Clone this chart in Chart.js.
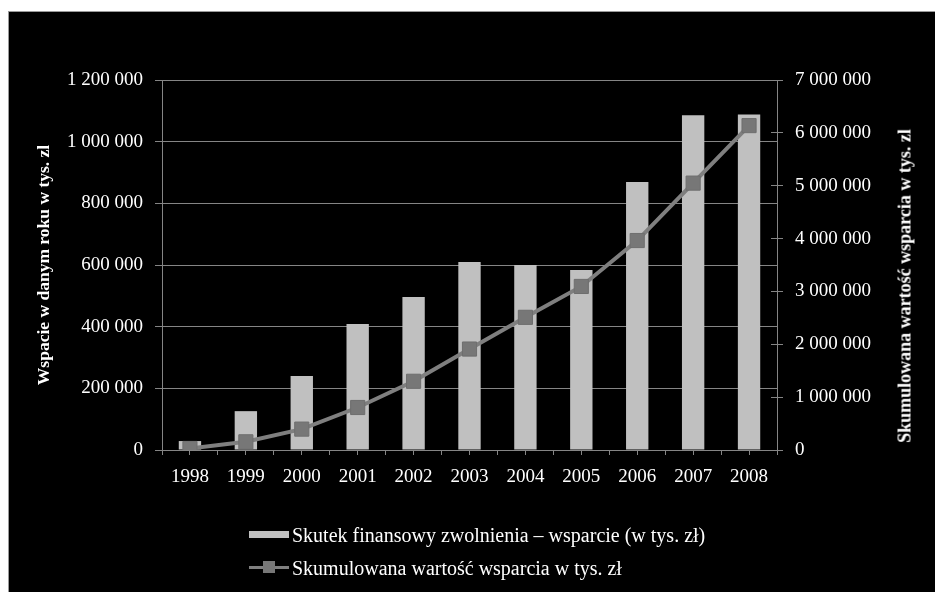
<!DOCTYPE html>
<html>
<head>
<meta charset="utf-8">
<script src="https://cdn.jsdelivr.net/npm/chart.js@4/dist/chart.umd.min.js"></script>
<style>
  html, body { margin: 0; padding: 0; background: #fff; overflow: hidden; }
  #frame { position: absolute; left: 8px; top: 11px; width: 940px; height: 600px; border: 1px solid #9a9a9a; background: #000; }
  #wrap { position: absolute; left: 0; top: 0; width: 935px; height: 592px; }
  .legend-row { position: absolute; left: 249px; height: 22px; font-family: "Liberation Serif", serif; font-size: 20px; color: #fff; white-space: nowrap; }
  .legend-row span { position: absolute; left: 43px; top: 0; line-height: 22px; }
  .sw-bar { position: absolute; left: 0; top: 7px; width: 40px; height: 7px; background: #c0c0c0; }
  .sw-line { position: absolute; left: 0; top: 9px; width: 40px; height: 3px; background: #7f7f7f; }
  .sw-mark { position: absolute; left: 14px; top: 4px; width: 12px; height: 12px; background: #777; }
  #rtitle { position: absolute; left: 905px; top: 286px; transform: translate(-50%, -50%) rotate(-90deg); font-family: "Liberation Serif", serif; font-weight: bold; font-size: 18px; color: #fff; white-space: nowrap; }
</style>
</head>
<body>
<div id="frame"></div>
<div id="wrap"><canvas id="chart"></canvas></div>
<div id="rtitle"></div>
<div class="legend-row" style="top:524px"><div class="sw-bar"></div><span id="lg1"></span></div>
<div class="legend-row" style="top:557px"><div class="sw-line"></div><div class="sw-mark"></div><span id="lg2"></span></div>
<script>
const years = ['1998', '1999', '2000', '2001', '2002', '2003', '2004', '2005', '2006', '2007', '2008'];
const yearlySupport = [29000, 126000, 240000, 409000, 496000, 610000, 600000, 584000, 869000, 1086000, 1088000];
const cumulativeSupport = [29000, 155000, 395000, 804000, 1300000, 1910000, 2510000, 3094000, 3963000, 5049000, 6137000];
const barLabel = 'Skutek finansowy zwolnienia – wsparcie (w tys. zł)';
const lineLabel = 'Skumulowana wartość wsparcia w tys. zł';
const leftTitle = 'Wspacie w danym roku w tys. zl';
const rightTitle = 'Skumulowana wartość wsparcia w tys. zl';

document.getElementById('lg1').textContent = barLabel;
document.getElementById('lg2').textContent = lineLabel;
// right axis title reads bottom-to-top like the left one, so it sits in the page instead of chart.js
document.getElementById('rtitle').textContent = rightTitle;

const fmt = v => String(v).replace(/\B(?=(\d{3})+(?!\d))/g, ' ');
const gridGray = '#858585';
const tickFont = { family: '"Liberation Serif", serif', size: 19 };

new Chart(document.getElementById('chart'), {
    type: 'bar',
    data: {
        labels: years,
        datasets: [
            {
                type: 'line',
                label: lineLabel,
                data: cumulativeSupport,
                yAxisID: 'y2',
                borderColor: '#7f7f7f',
                borderWidth: 4,
                pointStyle: 'rect',
                pointRadius: 10,
                pointBackgroundColor: '#777777',
                pointBorderColor: '#6e6e6e',
                pointBorderWidth: 1,
                tension: 0,
                order: 0,
            },
            {
                label: barLabel,
                data: yearlySupport,
                yAxisID: 'y',
                backgroundColor: '#c0c0c0',
                barPercentage: 0.4,
                categoryPercentage: 1,
                order: 1,
            },
        ],
    },
    options: {
        responsive: true,
        maintainAspectRatio: false,
        animation: false,
        layout: { padding: { left: 30, right: 16, top: 80, bottom: 100 } },
        plugins: { legend: { display: false }, tooltip: { enabled: false } },
        scales: {
            x: {
                offset: true,
                afterFit: s => { s.height = 42; },
                grid: { offset: true, drawOnChartArea: false, color: gridGray, tickLength: 5 },
                border: { color: gridGray },
                ticks: { color: '#fff', font: tickFont, padding: 11 },
            },
            xc: {
                type: 'category',
                position: { y: 0 },
                offset: true,
                grid: { offset: false, drawOnChartArea: false, color: gridGray, tickLength: 5 },
                border: { display: false },
                ticks: { display: false },
            },
            y: {
                position: 'left',
                min: 0,
                max: 1200000,
                afterFit: s => { s.width = 132; },
                grid: { color: gridGray, tickLength: 7 },
                border: { color: gridGray },
                ticks: { stepSize: 200000, color: '#fff', font: tickFont, padding: 12, callback: fmt },
                title: { display: true, text: leftTitle, color: '#fff', font: { family: '"Liberation Serif", serif', size: 17.5, weight: 'bold' } },
            },
            y2: {
                position: 'right',
                min: 0,
                max: 7000000,
                afterFit: s => { s.width = 142; },
                grid: { drawOnChartArea: false, color: gridGray, tickLength: 6 },
                border: { color: gridGray },
                ticks: { stepSize: 1000000, color: '#fff', font: tickFont, padding: 12, callback: fmt },
            },
            y2in: {
                position: { x: 10.5 },
                min: 0,
                max: 7000000,
                grid: { drawOnChartArea: false, color: gridGray, tickLength: 6 },
                border: { display: false },
                ticks: { stepSize: 1000000, display: false },
            },
        },
    },
});
</script>
</body>
</html>
